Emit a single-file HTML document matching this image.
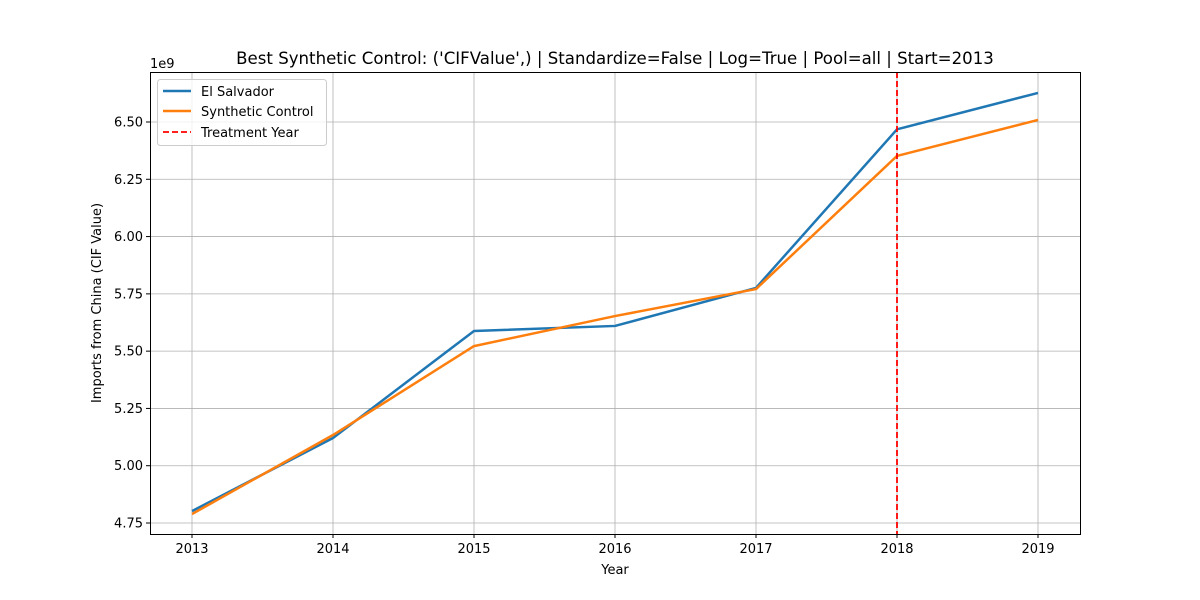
<!DOCTYPE html>
<html><head><meta charset="utf-8"><style>
body{margin:0;background:#fff;}
svg{display:block;font-family:"DejaVu Sans","Liberation Sans",sans-serif;}
</style></head><body>
<svg id="chart" width="1200" height="600" viewBox="0 0 1200 600">
<rect x="0" y="0" width="1200" height="600" fill="#fff"/>
<g id="grid"></g>
<g id="ticks"></g>
<g id="lines"></g>
<rect x="150.5" y="72.5" width="930" height="462" fill="none" stroke="#000" stroke-width="1"/>
<text x="615" y="64" text-anchor="middle" font-size="16.6">Best Synthetic Control: ('CIFValue',) | Standardize=False | Log=True | Pool=all | Start=2013</text>
<text x="150" y="68" font-size="13">1e9</text>
<text x="615" y="574" text-anchor="middle" font-size="13">Year</text>
<text transform="translate(101,303) rotate(-90)" text-anchor="middle" font-size="13">Imports from China (CIF Value)</text>
<g>
<rect x="157.5" y="79.5" width="169" height="66" rx="3" fill="#fff" fill-opacity="0.8" stroke="#ccc"/>
<g><line x1="163" y1="91" x2="191" y2="91" stroke="#1f77b4" stroke-width="2.5"/><text x="201" y="96" font-size="13">El Salvador</text></g>
<g><line x1="163" y1="111" x2="191" y2="111" stroke="#ff7f0e" stroke-width="2.5"/><text x="201" y="116" font-size="13">Synthetic Control</text></g>
<g><line x1="163" y1="132" x2="191" y2="132" stroke="red" stroke-width="1.8" stroke-dasharray="6,3"/><text x="201" y="137" font-size="13">Treatment Year</text></g>
</g>
</svg>
<script>
const years=[2013,2014,2015,2016,2017,2018,2019];
const elSalvador=[4.802,5.121,5.588,5.610,5.776,6.468,6.627];
const synthetic=[4.789,5.134,5.522,5.653,5.771,6.352,6.509];
const yTicks=[4.75,5.00,5.25,5.50,5.75,6.00,6.25,6.50];
const yTickLabels=["4.75","5.00","5.25","5.50","5.75","6.00","6.25","6.50"];
const treatmentYear=2018;
const NS="http://www.w3.org/2000/svg";
const xs=y=>192+(y-2013)*141;
const ys=v=>523-(v-4.75)*(401/1.75);
function mk(t,a,p){const e=document.createElementNS(NS,t);for(const k in a)e.setAttribute(k,a[k]);p.appendChild(e);return e;}
const grid=document.getElementById('grid'),ticks=document.getElementById('ticks'),lines=document.getElementById('lines');
years.forEach(y=>{
 const x=xs(y);
 const g=mk('line',{x1:x,y1:72,x2:x,y2:534,stroke:'#b0b0b0','stroke-width':0.8},grid);
 
 
 mk('line',{x1:x,y1:534,x2:x,y2:538,stroke:'#000'},ticks);
 const t=mk('text',{x:x,y:553,'text-anchor':'middle','font-size':13},ticks);t.textContent=y;
 
 
});
yTicks.forEach((v,i)=>{
 const y=ys(v);
 const g=mk('line',{x1:150,y1:y,x2:1080,y2:y,stroke:'#b0b0b0','stroke-width':0.8},grid);
 
 
 mk('line',{x1:146,y1:y,x2:150,y2:y,stroke:'#000'},ticks);
 const t=mk('text',{x:143,y:y+4.5,'text-anchor':'end','font-size':13},ticks);t.textContent=yTickLabels[i];
 
 
});
function series(vals,color,name){
 const p=mk('polyline',{points:vals.map((v,i)=>xs(years[i])+','+ys(v)).join(' '),fill:'none',stroke:color,'stroke-width':2.5,'stroke-linejoin':'round'},lines);
 
 
}
series(elSalvador,'#1f77b4','el-salvador-line');
series(synthetic,'#ff7f0e','synthetic-control-line');
const tl=mk('line',{x1:xs(treatmentYear),y1:72,x2:xs(treatmentYear),y2:534,stroke:'red','stroke-width':1.8,'stroke-dasharray':'6,3'},lines);


</script>
</body></html>
